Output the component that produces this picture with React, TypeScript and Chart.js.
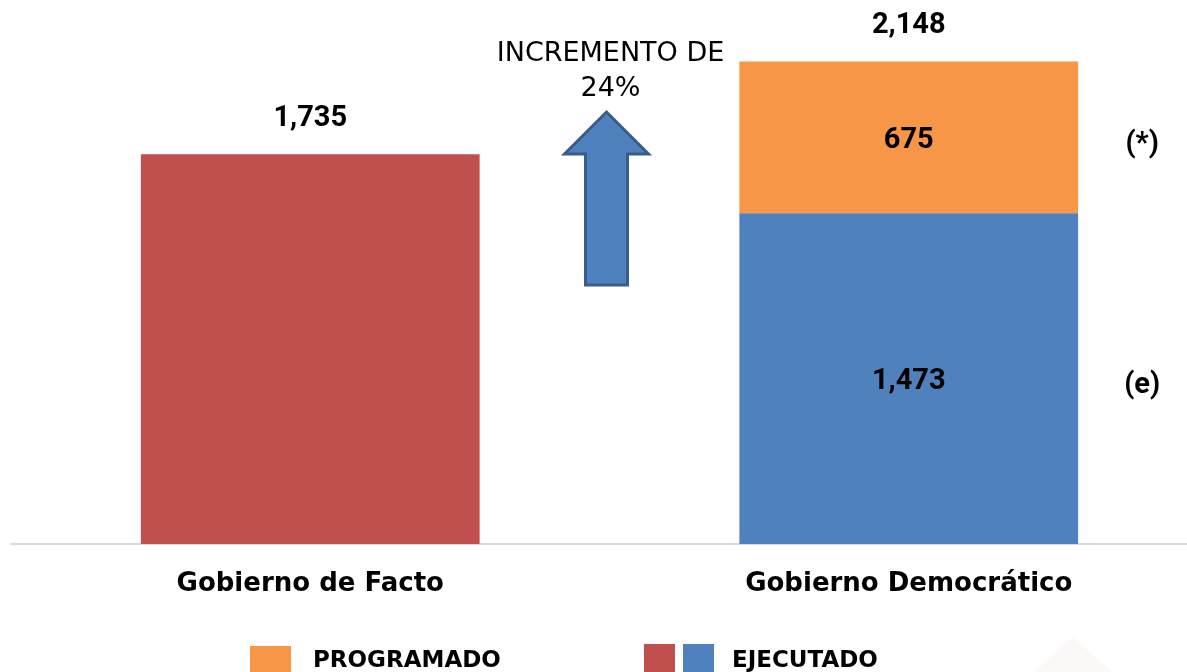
import React, { useEffect, useRef } from "react";
import { Chart, registerables } from "chart.js";

Chart.register(...registerables);

const categories = ["Gobierno de Facto", "Gobierno Democrático"];
const ejecutadoFacto = [1735, null];
const ejecutadoDemocratico = [null, 1473];
const programado = [null, 675];
const noteLabels = ["(e)", "(*)"];
const incrementoText = ["INCREMENTO DE", "24%"];
const legendLabels = ["PROGRAMADO", "EJECUTADO"];

const RED = "#c0504d";
const BLUE = "#4f81bd";
const ORANGE = "#f79646";

const NUM_FONT = 'bold 29px Roboto, "DejaVu Sans", sans-serif';

const fmt = (v: number) => v.toLocaleString("en-US");

const overlayPlugin = {
  id: "overlay",
  afterDraw(chart: any) {
    const ctx = chart.ctx as CanvasRenderingContext2D;
    const xs = chart.scales.x;
    ctx.save();

    // faint watermark
    ctx.fillStyle = "#fbf8f7";
    ctx.beginPath();
    ctx.moveTo(1073, 637);
    ctx.lineTo(1112, 672);
    ctx.lineTo(1034, 672);
    ctx.closePath();
    ctx.fill();

    const metaBlue = chart.getDatasetMeta(1);
    const metaOrange = chart.getDatasetMeta(2);

    ctx.fillStyle = "#000";
    ctx.textAlign = "center";
    ctx.textBaseline = "middle";
    ctx.font = NUM_FONT;

    // totals above bars
    categories.forEach((_, i) => {
      const a = ejecutadoFacto[i] ?? 0;
      const b = ejecutadoDemocratico[i] ?? 0;
      const c = programado[i] ?? 0;
      const total = a + b + c;
      const topY = chart.scales.y.getPixelForValue(total);
      const x = xs.getPixelForValue(i);
      ctx.fillText(fmt(total), x, topY - 36);
    });

    // inner labels for stacked segments
    const inner = (meta: any, data: (number | null)[], note: string | null) => {
      data.forEach((v, i) => {
        if (v == null) return;
        const el = meta.data[i];
        const mid = (el.y + el.base) / 2;
        ctx.fillText(fmt(v), el.x, mid + 3);
        if (note) {
          ctx.fillText(note, el.x + el.width / 2 + 64, mid + 7);
        }
      });
    };
    inner(metaBlue, ejecutadoDemocratico, noteLabels[0]);
    inner(metaOrange, programado, noteLabels[1]);

    // arrow
    const ax = (xs.getPixelForValue(0) + xs.getPixelForValue(1)) / 2 - 3;
    const tip = 112;
    const headBase = 154;
    const bottom = 285;
    const headHalf = 42;
    const shaftHalf = 21;
    ctx.beginPath();
    ctx.moveTo(ax, tip);
    ctx.lineTo(ax + headHalf, headBase);
    ctx.lineTo(ax + shaftHalf, headBase);
    ctx.lineTo(ax + shaftHalf, bottom);
    ctx.lineTo(ax - shaftHalf, bottom);
    ctx.lineTo(ax - shaftHalf, headBase);
    ctx.lineTo(ax - headHalf, headBase);
    ctx.closePath();
    ctx.fillStyle = BLUE;
    ctx.fill();
    ctx.lineWidth = 3;
    ctx.strokeStyle = "#385d8a";
    ctx.lineJoin = "miter";
    ctx.stroke();

    ctx.fillStyle = "#000";
    ctx.font = '27px "DejaVu Sans", sans-serif';
    ctx.fillText(incrementoText[0], ax + 4, 54);
    ctx.fillText(incrementoText[1], ax + 4, 89);

    // legend
    ctx.textAlign = "left";
    ctx.font = 'bold 23px "DejaVu Sans", sans-serif';
    ctx.fillStyle = ORANGE;
    ctx.fillRect(250, 646, 41, 41);
    ctx.fillStyle = "#000";
    ctx.fillText(legendLabels[0], 313, 661);
    ctx.fillStyle = RED;
    ctx.fillRect(644, 644, 31, 41);
    ctx.fillStyle = BLUE;
    ctx.fillRect(683, 644, 31, 41);
    ctx.fillStyle = "#000";
    ctx.fillText(legendLabels[1], 732, 661);

    ctx.restore();
  },
};

export default function App() {
  const ref = useRef<HTMLCanvasElement>(null);
  useEffect(() => {
    if (!ref.current) return;
    const chart = new Chart(ref.current, {
      type: "bar",
      data: {
        labels: categories,
        datasets: [
          { label: "EJECUTADO", data: ejecutadoFacto, backgroundColor: RED, stack: "s" },
          { label: "EJECUTADO", data: ejecutadoDemocratico, backgroundColor: BLUE, stack: "s" },
          { label: "PROGRAMADO", data: programado, backgroundColor: ORANGE, stack: "s" },
        ],
      },
      options: {
        responsive: false,
        animation: false,
        devicePixelRatio: 1,
        layout: { padding: { top: 5, left: 11, right: 0, bottom: 0 } },
        datasets: { bar: { barPercentage: 0.566, categoryPercentage: 1 } },
        plugins: { legend: { display: false }, tooltip: { enabled: false } },
        scales: {
          x: {
            stacked: true,
            grid: { display: false, drawTicks: false },
            border: { display: true, color: "#d9d9d9", width: 2 },
            ticks: { color: "#000", font: { family: '"DejaVu Sans", sans-serif', size: 26, weight: "bold" }, padding: 25 },
            afterFit: (scale: any) => {
              scale.height = 128;
            },
          },
          y: {
            stacked: true,
            display: false,
            min: 0,
            max: 2400,
          },
        },
      },
      plugins: [overlayPlugin],
    } as any);
    return () => chart.destroy();
  }, []);
  return (
    <div style={{ position: "fixed", left: 0, top: 0, width: 1187, height: 672, overflow: "hidden", background: "#fff" }}>
      <canvas ref={ref} width={1208} height={672} style={{ display: "block" }} />
    </div>
  );
}
